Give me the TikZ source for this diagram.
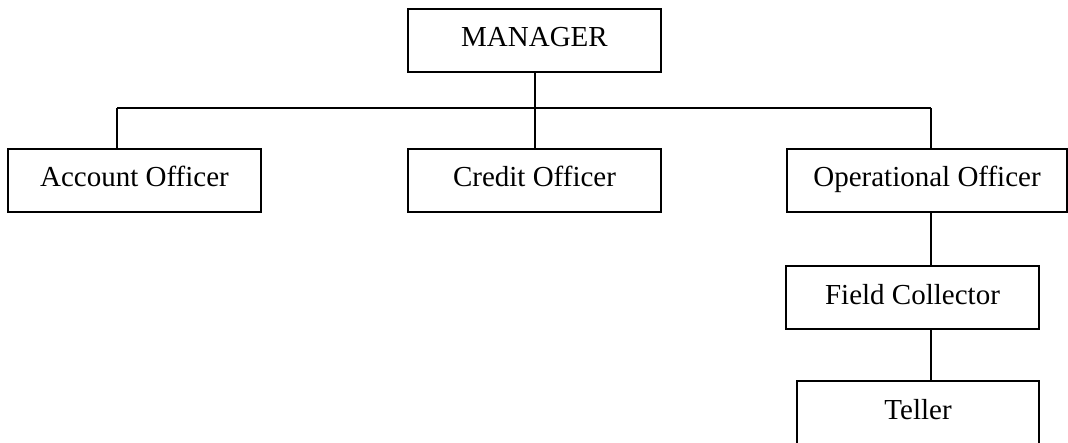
\documentclass[tikz,border=0pt]{standalone}
\usepackage{fontspec}
\setmainfont{Liberation Serif}
\begin{document}
\begin{tikzpicture}[x=1pt,y=-1pt,
  orgbox/.style={draw, line width=2pt, inner sep=0pt, minimum height=63pt,
    text height=38pt, text depth=25pt, font=\fontsize{29}{32}\selectfont},
  link/.style={line width=2pt}]
\useasboundingbox (0,0) rectangle (1068,443);
\clip (0,0) rectangle (1068,443);
\node[orgbox, minimum width=253pt] (mgr) at (534.5,40.5) {MANAGER};
\node[orgbox, minimum width=253pt] (acc) at (134.5,180.5) {Account Officer};
\node[orgbox, minimum width=253pt] (cred) at (534.5,180.5) {Credit Officer};
\node[orgbox, minimum width=280pt] (opo) at (927,180.5) {Operational Officer};
\node[orgbox, minimum width=253pt] (fc) at (912.5,298) {Field Collector};
\node[orgbox, minimum width=242pt] (tel) at (918,412.5) {Teller};
\coordinate (jL) at (117,108.5);
\coordinate (jR) at (931,108.5);
\coordinate (jM) at (mgr.south |- jL);
\draw[link] (mgr.south) -- (jM);
\draw[link] (jL) -- (jR);
\draw[link] (jL) -- (acc.north -| jL);
\draw[link] (jM) -- (cred.north);
\draw[link] (jR) -- (opo.north -| jR);
\draw[link] (opo.south -| jR) -- (fc.north -| jR);
\draw[link] (fc.south -| jR) -- (tel.north -| jR);
\end{tikzpicture}
\end{document}
